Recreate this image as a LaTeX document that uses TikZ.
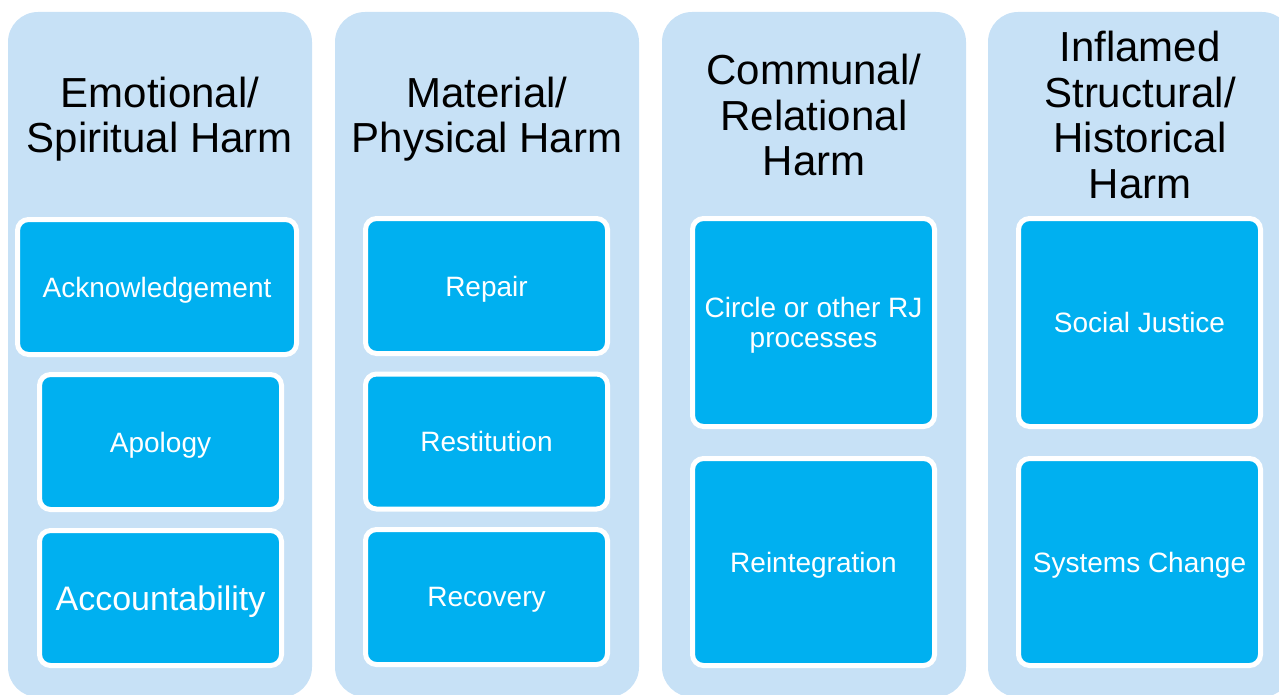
\documentclass[tikz,border=0pt]{standalone}
\usepackage{fontspec}
\setmainfont{Liberation Sans}
\definecolor{colbg}{HTML}{C7E1F6}
\definecolor{boxblue}{HTML}{00B0F0}
\tikzset{
	harmcol/.style={fill=colbg,rounded corners=30pt},
	harmtitle/.style={align=center,inner sep=0pt,text depth=0pt,font=\fontsize{42}{45.5}\selectfont},
	repairbox/.style={draw=white,line width=5pt,fill=boxblue,rounded corners=11pt,text=white,align=center,inner sep=0pt,text depth=0pt,minimum width=242pt,minimum height=135pt,font=\fontsize{28}{30}\selectfont},
}
\begin{document}
\begin{tikzpicture}[x=1pt,y=-1pt]
	\useasboundingbox (0,0) rectangle (1279,695);
	\clip (0,0) rectangle (1279,695);
	\foreach \x in {8,335,662,988}
	\fill[harmcol] (\x,12) rectangle ++(304,685);
	\node[harmtitle] (emotional) at (160,115) {Emotional/\\Spiritual Harm};
	\node[harmtitle] (material) at (487,115) {Material/\\Physical Harm};
	\node[harmtitle] (communal) at (814,115) {Communal/\\Relational\\Harm};
	\node[harmtitle] (inflamed) at (1140,115) {Inflamed\\Structural/\\Historical\\Harm};
	\node[repairbox,minimum width=279pt] (ack) at (157,287) {Acknowledgement};
	\node[repairbox] (apology) at (160.5,442) {Apology};
	\node[repairbox,font=\fontsize{34}{36}\selectfont] (account) at (160.5,598) {Accountability};
	\node[repairbox] (repair) at (486.5,286) {Repair};
	\node[repairbox] (restitution) at (486.5,441.5) {Restitution};
	\node[repairbox] (recovery) at (486.5,597) {Recovery};
	\node[repairbox,minimum height=208pt] (circle) at (813.5,322.5) {Circle or other RJ\\processes};
	\node[repairbox,minimum height=207pt] (reint) at (813.5,562) {Reintegration};
	\node[repairbox,minimum height=208pt] (justice) at (1139.5,322.5) {Social Justice};
	\node[repairbox,minimum height=207pt] (systems) at (1139.5,562) {Systems Change};
\end{tikzpicture}
\end{document}
